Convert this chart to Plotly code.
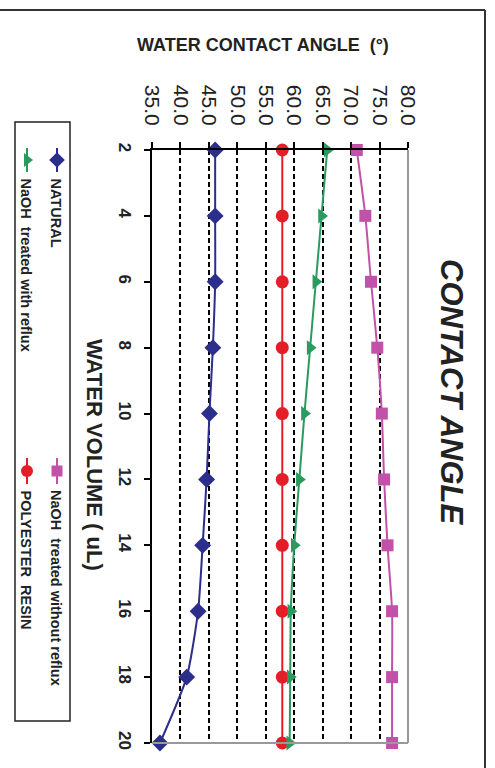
import plotly.graph_objects as go

# ---- data ----
volume = [2, 4, 6, 8, 10, 12, 14, 16, 18, 20]
natural = [46.1, 46.1, 46.1, 45.7, 45.1, 44.6, 43.9, 43.1, 41.1, 36.4]
polyester = [57.9, 57.9, 57.9, 57.9, 57.9, 57.9, 57.9, 57.9, 57.9, 57.9]
naoh_reflux = [65.8, 64.8, 63.8, 62.8, 61.8, 60.9, 60.0, 59.4, 59.3, 59.2]
naoh_no_reflux = [71.0, 72.5, 73.5, 74.6, 75.4, 75.8, 76.4, 77.2, 77.2, 77.2]
angle_ticks = [35, 40, 45, 50, 55, 60, 65, 70, 75, 80]

W, H = 495, 768
FONT = "Liberation Sans, Arial, sans-serif"

series = [
    ("NATURAL", natural, "#2B2E8A", "diamond", 13),
    ("POLYESTER\u00a0\u00a0RESIN", polyester, "#E41E26", "circle", 13),
    ("NaOH\u00a0\u00a0treated with reflux", naoh_reflux, "#2A9A5E", "triangle-right", 13),
    ("NaOH\u00a0\u00a0treated without reflux", naoh_no_reflux, "#C252A9", "square", 12),
]

fig = go.Figure()
for name, vals, col, sym, sz in series:
    fig.add_trace(go.Scatter(
        x=vals, y=volume, mode="lines+markers", name=name,
        line=dict(color=col, width=2, shape="spline", smoothing=0.6),
        marker=dict(symbol=sym, size=sz, color=col),
        cliponaxis=False, showlegend=False,
        xaxis="x", yaxis="y"))

# legend samples on a pixel overlay axis (layout positions)
leg = [
    (natural, "#2B2E8A", "diamond", 57, 148, 172, 12, "NATURAL"),
    (naoh_reflux, "#2A9A5E", "triangle-right", 27, 148, 172, 12, "NaOH\u00a0\u00a0treated with reflux"),
    (naoh_no_reflux, "#C252A9", "square", 57, 458, 484, 11, "NaOH\u00a0\u00a0treated without reflux"),
    (polyester, "#E41E26", "circle", 27, 458, 484, 12, "POLYESTER\u00a0\u00a0RESIN"),
]
annotations = []
for _, col, sym, lx, y0, y1, sz, label in leg:
    fig.add_trace(go.Scatter(x=[lx, lx], y=[y0, y1], mode="lines",
                             line=dict(color=col, width=2), showlegend=False,
                             hoverinfo="skip", xaxis="x2", yaxis="y2"))
    fig.add_trace(go.Scatter(x=[lx], y=[(y0 + y1) / 2], mode="markers",
                             marker=dict(symbol=sym, size=sz, color=col),
                             showlegend=False, hoverinfo="skip",
                             xaxis="x2", yaxis="y2"))
    annotations.append(dict(x=lx - 1, y=y1 + 4, xref="x2", yref="y2", text=f"<b>{label}</b>",
                            textangle=90, showarrow=False, xanchor="center",
                            yanchor="top", font=dict(family=FONT, size=14.5, color="#222")))

annotations += [
    dict(x=263, y=45, xref="x2", yref="y2", text="<b>WATER CONTACT ANGLE\u00a0\u00a0(°)</b>",
         showarrow=False, font=dict(family=FONT, size=18, color="#222")),
    dict(x=95, y=455, xref="x2", yref="y2", text="<b>WATER VOLUME ( uL)</b>",
         textangle=90, showarrow=False, font=dict(family=FONT, size=22, color="#222")),
    dict(x=452, y=392, xref="x2", yref="y2", text="<b><i>CONTACT ANGLE</i></b>",
         textangle=90, showarrow=False, font=dict(family=FONT, size=31, color="#222")),
]

shapes = [
    # outer frame (top and right)
    dict(type="line", xref="x2", yref="y2", x0=0, x1=485, y0=10, y1=10,
         line=dict(color="#333", width=2)),
    dict(type="line", xref="x2", yref="y2", x0=485, x1=485, y0=10, y1=768,
         line=dict(color="#333", width=2)),
    # legend box
    dict(type="rect", xref="x2", yref="y2", x0=15, x1=70, y0=122, y1=721,
         line=dict(color="#222", width=1.5)),
    # plot area gray borders (right & bottom)
    dict(type="line", xref="x domain", yref="y domain", x0=1, x1=1, y0=0, y1=1,
         line=dict(color="#999", width=2)),
    dict(type="line", xref="x domain", yref="y domain", x0=0, x1=1, y0=0, y1=0,
         line=dict(color="#999", width=2)),
]

fig.update_layout(
    width=W, height=H,
    margin=dict(l=0, r=0, t=0, b=0, pad=0, autoexpand=False),
    paper_bgcolor="white", plot_bgcolor="rgba(0,0,0,0)",
    font=dict(family=FONT, color="#222"),
    xaxis=dict(domain=[152 / W, 408 / W], range=[35, 80], side="top",
               tickvals=angle_ticks, tickformat=".1f", tickangle=90,
               tickfont=dict(family=FONT, size=21, color="#222"),
               ticks="outside", ticklen=6, tickwidth=1.5, tickcolor="black",
               showline=True, linecolor="black", linewidth=2,
               showgrid=True, gridcolor="black", gridwidth=1.5, griddash="5px,3px",
               zeroline=False, anchor="y", ticklabelstandoff=9, automargin=False),
    yaxis=dict(domain=[1 - 743 / H, 1 - 150 / H], range=[20, 2],
               tickvals=volume, tickangle=90,
               tickfont=dict(family=FONT, size=17, color="#222", weight="bold"),
               ticks="outside", ticklen=6, tickwidth=1.5, tickcolor="black",
               showline=True, linecolor="black", linewidth=2,
               showgrid=False, zeroline=False, anchor="x", ticklabelstandoff=5,
               automargin=False),
    xaxis2=dict(domain=[0, 1], range=[0, W], visible=False, fixedrange=True,
                anchor="y2", automargin=False),
    yaxis2=dict(domain=[0, 1], range=[H, 0], visible=False, fixedrange=True,
                anchor="x2", automargin=False),
    annotations=annotations, shapes=shapes,
)

fig.write_html("out.html", config={"displayModeBar": False},
               post_script="document.body.style.margin='0';document.body.style.overflow='hidden';")
